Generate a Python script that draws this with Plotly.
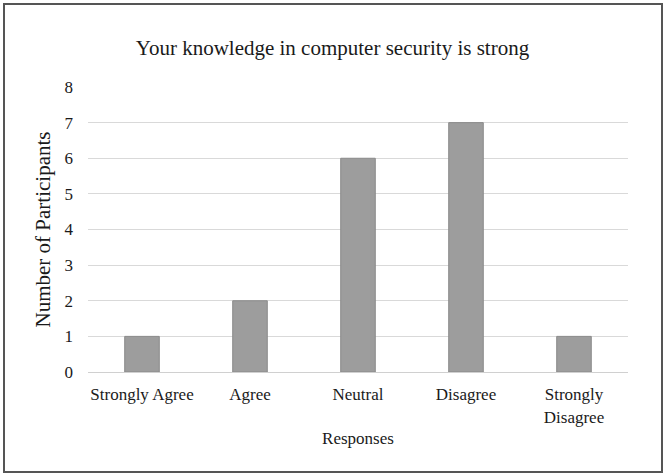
import plotly.graph_objects as go

categories = ["Strongly Agree", "Agree", "Neutral", "Disagree", "Strongly<br>Disagree"]
counts = [1, 2, 6, 7, 1]
y_ticks = [0, 1, 2, 3, 4, 5, 6, 7, 8]

FONT = "Liberation Serif, Times New Roman, serif"

fig = go.Figure(go.Bar(
    x=categories, y=counts,
    marker=dict(color="#9d9d9d", line=dict(color="#8a8a8a", width=1)),
))

L, R, T, B = 88, 37, 87, 104
W, H = 665, 476
pw, ph = W - L - R, H - T - B

fig.update_layout(
    width=W, height=H,
    margin=dict(l=L, r=R, t=T, b=B),
    paper_bgcolor="white", plot_bgcolor="white",
    bargap=0.68,
    font=dict(family=FONT, size=17, color="#1a1a1a"),
    title=dict(text="Your knowledge in computer security is strong",
               x=0.5, xanchor="center", y=1 - 48 / H, yanchor="middle",
               font=dict(family=FONT, size=21, color="#1a1a1a")),
    showlegend=False,
    xaxis=dict(title=dict(text="Responses", standoff=6, font=dict(size=17)),
               showgrid=False, showline=True, linecolor="#d0d0d0", linewidth=1,
               ticks="", tickfont=dict(size=17), ticklabelstandoff=7),
    yaxis=dict(title=dict(text="Number of Participants", standoff=8, font=dict(size=21)),
               range=[0, 8], tickvals=y_ticks, showgrid=True, gridcolor="#d9d9d9",
               gridwidth=1, zeroline=False, showline=False, ticks="",
               ticklabelstandoff=14, tickfont=dict(size=17)),
    shapes=[dict(type="rect", xref="paper", yref="paper",
                 x0=(4 - L) / pw, x1=(662 - L) / pw,
                 y0=(H - B - 472) / ph, y1=(H - B - 4) / ph,
                 line=dict(color="#555555", width=2), fillcolor="rgba(0,0,0,0)")],
)

fig.write_html("out.html", config={"displayModeBar": False},
               post_script="document.body.style.margin='0';document.body.style.overflow='hidden';")
